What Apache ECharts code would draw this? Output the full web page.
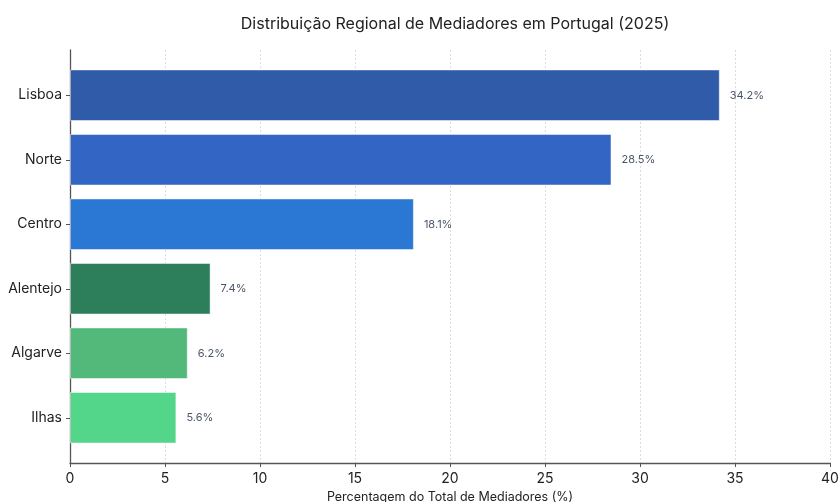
<!DOCTYPE html>
<html>
<head>
<meta charset="utf-8">
<script src="https://cdn.jsdelivr.net/npm/echarts@6/dist/echarts.min.js"></script>
<style>
  html, body { margin: 0; padding: 0; background: #fff; }
  #main { width: 839px; height: 502px; }
</style>
</head>
<body>
<div id="main"></div>
<script>
var regioes = ['Lisboa', 'Norte', 'Centro', 'Alentejo', 'Algarve', 'Ilhas'];
var percentagens = [34.2, 28.5, 18.1, 7.4, 6.2, 5.6];
var cores = ['#2F5BA8', '#3366C4', '#2B77D4', '#2D7F5C', '#52B97A', '#54D68A'];
var ticksX = [0, 5, 10, 15, 20, 25, 30, 35, 40];

var myChart = echarts.init(document.getElementById('main'));

// eixo de categorias de baixo para cima, por isso invertemos
var dados = [];
for (var i = regioes.length - 1; i >= 0; i--) {
  dados.push({
    value: percentagens[i],
    itemStyle: { color: cores[i] }
  });
}
var cats = regioes.slice().reverse();
var xMax = ticksX[ticksX.length - 1];

var option = {
  animation: false,
  textStyle: { fontFamily: 'Inter, Roboto, sans-serif' },
  title: {
    text: 'Distribuição Regional de Mediadores em Portugal (2025)',
    left: 450,
    textAlign: 'center',
    top: 11,
    textStyle: { fontSize: 16, fontWeight: 'normal', color: '#222' }
  },
  // grid 0: moldura com eixos e grelha; grid 1: barras com margem (como matplotlib)
  grid: [
    { left: 70, right: 9, top: 50, bottom: 39, outerBoundsMode: 'none' },
    { left: 70, right: 9, top: 63, bottom: 52, outerBoundsMode: 'none' }
  ],
  xAxis: [{
    gridIndex: 0,
    type: 'value',
    min: 0,
    max: xMax,
    interval: 5,
    name: 'Percentagem do Total de Mediadores (%)',
    nameLocation: 'middle',
    nameGap: 28,
    nameTextStyle: { fontSize: 12.5, color: '#222' },
    axisLine: { show: true, lineStyle: { color: '#555', width: 1.3 } },
    axisTick: { show: true, length: 4, lineStyle: { color: '#555' } },
    axisLabel: { fontSize: 14, color: '#222', margin: 9 },
    splitLine: { show: true, lineStyle: { color: '#dcdcdc', type: [2, 2], width: 1 } }
  }, {
    gridIndex: 1,
    type: 'value',
    min: 0,
    max: xMax,
    show: false
  }],
  yAxis: [{
    gridIndex: 0,
    type: 'value',
    min: 0,
    max: 1,
    axisLine: { show: true, lineStyle: { color: '#555', width: 1.3 } },
    axisTick: { show: false },
    axisLabel: { show: false },
    splitLine: { show: false }
  }, {
    gridIndex: 1,
    type: 'category',
    data: cats,
    axisLine: { show: false },
    axisTick: { show: true, length: 4, alignWithLabel: true, lineStyle: { color: '#555' } },
    axisLabel: { fontSize: 14, color: '#222', margin: 8 },
    splitLine: { show: false }
  }],
  series: [{
    type: 'bar',
    xAxisIndex: 1,
    yAxisIndex: 1,
    data: dados,
    barCategoryGap: '20%',
    itemStyle: { borderColor: 'rgba(255,255,255,0.5)', borderWidth: 1 },
    label: {
      show: true,
      position: 'right',
      distance: 10,
      fontSize: 11,
      color: '#4A5568',
      formatter: function (p) { return p.value.toFixed(1) + '%'; }
    }
  }]
};
myChart.setOption(option);
</script>
</body>
</html>
